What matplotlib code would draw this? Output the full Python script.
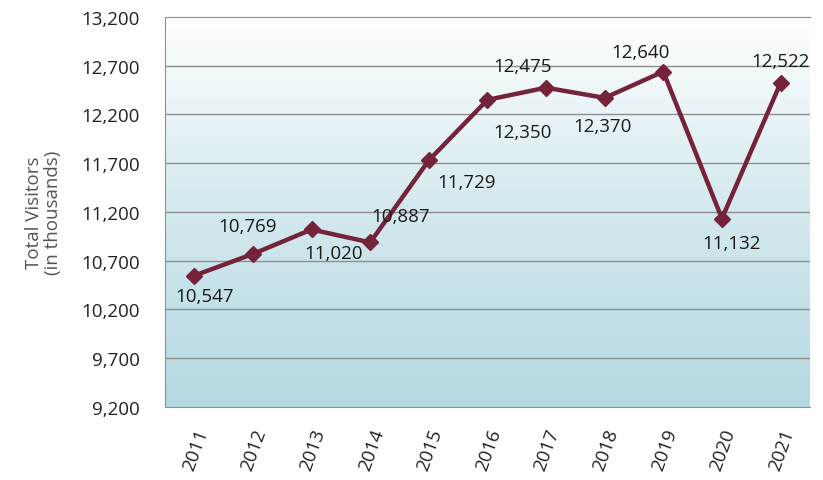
"""Total visitors per year (in thousands), line chart with gradient background."""

import matplotlib.pyplot as plt
import numpy as np
from matplotlib.colors import LinearSegmentedColormap

years = ['2011', '2012', '2013', '2014', '2015', '2016',
         '2017', '2018', '2019', '2020', '2021']
visitors = [10547, 10769, 11020, 10887, 11729, 12350,
            12475, 12370, 12640, 11132, 12522]
y_ticks = list(range(9200, 13201, 500))

# label offsets from each point, in pixels (dx, dy)
label_off = [(10, -20), (-5, 28), (22, -24), (30, 26), (38, -22), (35, -32),
             (-23, 22), (-2, -28), (-23, 20), (10, -24), (0, 22)]

plt.rcParams['font.family'] = ['Open Sans', 'DejaVu Sans']

fig = plt.figure(figsize=(8.23, 4.81), dpi=100)
ax = fig.add_axes([0.2005, 0.152, 0.7835, 0.8106])

x = np.arange(len(years))
ax.set_xlim(-0.5, len(years) - 0.5)
ax.set_ylim(9200, 13200)

# vertical gradient, white at the top to pale blue at the bottom
cmap = LinearSegmentedColormap.from_list('bg', ['#b5d9e2', '#d3e9ee', '#ffffff'])
grad = np.linspace(0, 1, 256).reshape(-1, 1)
ax.imshow(grad, cmap=cmap, aspect='auto', origin='lower',
          extent=[-0.5, len(years) - 0.5, 9200, 13200], zorder=0)

for t in y_ticks[1:-1]:
    ax.axhline(t, color='#8f8f8f', lw=1.0, zorder=1)

ax.plot(x, visitors, color='#74233a', lw=3.2, marker='D', markersize=8,
        zorder=3)

for i, v in enumerate(visitors):
    dx, dy = label_off[i]
    ax.annotate(f'{v:,}', (x[i], v), xytext=(dx * 0.72, dy * 0.72),
                textcoords='offset points', ha='center', va='center',
                fontsize=13.5, color='#1a1a1a', zorder=4)

ax.set_yticks(y_ticks)
ax.set_yticklabels([f'{t:,}' for t in y_ticks], fontsize=13.5, color='#222222')
ax.set_xticks(x)
ax.set_xticklabels(years, rotation=70, ha='right', rotation_mode='anchor',
                   fontsize=13.5, color='#222222')
ax.tick_params(axis='y', length=0, pad=18)
ax.tick_params(axis='x', length=0, pad=14)

ax.spines['right'].set_visible(False)
for side in ['left', 'bottom', 'top']:
    ax.spines[side].set_color('#8f8f8f')

ax.set_ylabel('Total Visitors\n(in thousands)', fontsize=13.5, color='#555555',
              labelpad=14, linespacing=1.05)

fig.savefig('out.png', dpi=100)
